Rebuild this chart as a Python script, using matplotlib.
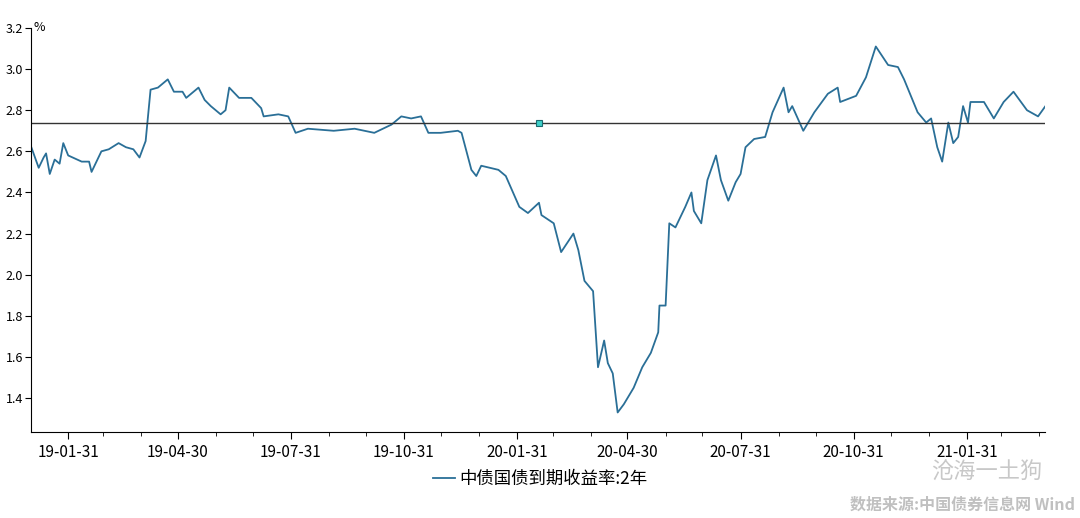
import numpy as np
import pandas as pd
import matplotlib.pyplot as plt
import matplotlib.dates as mdates

plt.rcParams['font.family'] = ['Noto Sans CJK SC', 'DejaVu Sans']

# 2y CGB yield (%); dates as days from 2019-01-31
base_date = '2019-01-31'
days = [-30, -24, -20, -18, -15, -11, -7, -4, 0, 11, 17, 19, 27, 33, 41, 47, 53, 58, 63,
        67, 73, 81, 86, 93, 96, 106, 111, 116, 124, 128, 131, 139, 149, 157, 159, 171, 179,
        185, 195, 216, 233, 249, 263, 271, 279, 287, 293, 303, 317, 320, 328, 332, 336, 350,
        356, 367, 374, 383, 385, 395, 401, 411, 415, 420, 427, 431, 436, 439, 443, 447, 452,
        460, 467, 474, 480, 481, 486, 489, 494, 502, 507, 509, 515, 520, 527, 531, 537, 543,
        547, 551, 558, 567, 573, 582, 586, 589, 598, 607, 618, 626, 628, 641, 649, 657, 667,
        675, 680, 691, 698, 702, 707, 711, 716, 720, 724, 728, 732, 734, 745, 753, 761, 769,
        780, 789, 795]
values = [2.62, 2.52, 2.57, 2.59, 2.49, 2.56, 2.54, 2.64, 2.58, 2.55, 2.55, 2.50, 2.60, 2.61,
          2.64, 2.62, 2.61, 2.57, 2.65, 2.90, 2.91, 2.95, 2.89, 2.89, 2.86, 2.91, 2.85, 2.82,
          2.78, 2.80, 2.91, 2.86, 2.86, 2.81, 2.77, 2.78, 2.77, 2.69, 2.71, 2.70, 2.71, 2.69,
          2.73, 2.77, 2.76, 2.77, 2.69, 2.69, 2.70, 2.69, 2.51, 2.48, 2.53, 2.51, 2.48, 2.33,
          2.30, 2.35, 2.29, 2.25, 2.11, 2.20, 2.12, 1.97, 1.92, 1.55, 1.68, 1.57, 1.52, 1.33,
          1.37, 1.45, 1.55, 1.62, 1.72, 1.85, 1.85, 2.25, 2.23, 2.33, 2.40, 2.31, 2.25, 2.46,
          2.58, 2.46, 2.36, 2.45, 2.49, 2.62, 2.66, 2.67, 2.79, 2.91, 2.79, 2.82, 2.70, 2.79,
          2.88, 2.91, 2.84, 2.87, 2.96, 3.11, 3.02, 3.01, 2.95, 2.79, 2.74, 2.76, 2.62, 2.55,
          2.74, 2.64, 2.67, 2.82, 2.74, 2.84, 2.84, 2.76, 2.84, 2.89, 2.80, 2.77, 2.82]
ref_level = 2.74
ref_date = '2020-02-18'
series_name = '中债国债到期收益率:2年'
tick_dates = ['2019-01-31', '2019-04-30', '2019-07-31', '2019-10-31', '2020-01-31',
              '2020-04-30', '2020-07-31', '2020-10-31', '2021-01-31']

d = pd.Timestamp(base_date) + pd.to_timedelta(days, unit='D')

fig = plt.figure(figsize=(10.8, 5.18), dpi=100)
ax = fig.add_axes([0.029, 0.166, 0.939, 0.78])
ax.plot(d, values, color='#2a6f97', lw=1.3, label=series_name)
ax.axhline(ref_level, color='#333333', lw=1)
ax.plot(pd.to_datetime(ref_date), ref_level, 's', ms=5, mfc='#3fd0c9', mec='#1a6b70', mew=0.8)

ax.set_xlim(pd.Timestamp('2019-01-01'), pd.Timestamp('2021-04-05'))
ax.set_ylim(1.235, 3.2)
ax.set_yticks(np.arange(1.4, 3.21, 0.2))
ax.yaxis.set_major_formatter(plt.FormatStrFormatter('%.1f'))
ax.set_xticks(pd.to_datetime(tick_dates))
ax.xaxis.set_major_formatter(mdates.DateFormatter('%y-%m-%d'))
ax.xaxis.set_minor_locator(mdates.MonthLocator(bymonthday=-1))
for s in ['top', 'right']:
    ax.spines[s].set_visible(False)
ax.tick_params(axis='y', direction='out', length=4, labelsize=9, pad=2)
ax.tick_params(axis='x', which='major', direction='out', length=5, labelsize=11)
ax.tick_params(axis='x', which='minor', direction='out', length=3)
ax.text(0.002, 3.2, '%', transform=ax.get_yaxis_transform(), fontsize=9, va='center', ha='left')

fig.legend(loc='center', bbox_to_anchor=(0.5, 0.075), frameon=False, fontsize=12.5,
           handlelength=1.3, handletextpad=0.2)
fig.text(0.965, 0.088, '沧海一土狗', fontsize=16, color='#c8c8c8', ha='right', va='center', style='italic')
fig.text(0.995, 0.01, '数据来源:中国债券信息网 Wind', fontsize=11.5, color='#c0c0c0',
         ha='right', va='bottom', weight='bold')

fig.savefig('out.png', dpi=100)
